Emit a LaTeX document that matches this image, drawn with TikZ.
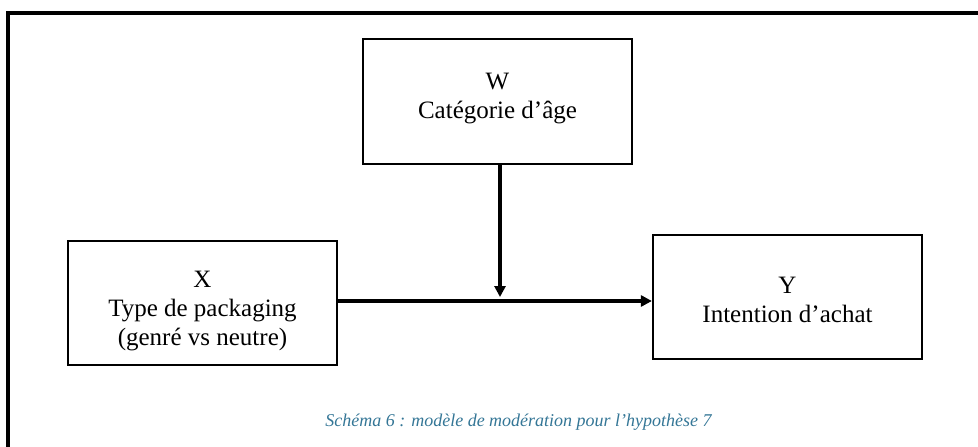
\documentclass[tikz,border=0pt]{standalone}
\usepackage{fontspec}
\setmainfont{Liberation Serif}
\usetikzlibrary{arrows.meta}
\definecolor{captionblue}{RGB}{52,118,150}
\begin{document}
\begin{tikzpicture}[x=1pt,y=-1pt,
  box/.style={draw, line width=2.2pt, inner sep=0pt},
  boxtext/.style={align=center, font=\fontsize{25}{29}\selectfont, inner sep=0pt},
  link/.style={line width=3.2pt, -{Triangle[length=11pt,width=11pt]}},
  frame/.style={line width=3.5pt}]
  \useasboundingbox (0,0) rectangle (978,447);
  % open frame around the figure
  \draw[frame] (8,450) -- (8,13) -- (980,13);
  % boxes
  \node[box, minimum width=269pt, minimum height=125pt] (W) at (497.5,101.5) {};
  \node[box, minimum width=269pt, minimum height=124pt] (X) at (202.5,303) {};
  \node[box, minimum width=269pt, minimum height=124pt] (Y) at (787.5,297) {};
  % box texts
  \node[boxtext] (Wt) at (497.5,99) {W\\Catégorie d’âge};
  \node[boxtext] (Xt) at (202.5,311) {X\\Type de packaging\\(genré vs neutre)};
  \node[boxtext] (Yt) at (787.5,300) {Y\\Intention d’achat};
  % moderation point on the main path
  \coordinate (m) at (500,301);
  \draw[link] (X.east |- m) -- (Y.west |- m);
  \draw[link, shorten >=4pt] (W.south -| m) -- (m);
  % caption
  \node[text=captionblue, font=\itshape\fontsize{18}{22}\selectfont, anchor=base] (cap) at (518.5,426)
    {Schéma 6 : modèle de modération pour l'hypothèse 7};
\end{tikzpicture}
\end{document}
